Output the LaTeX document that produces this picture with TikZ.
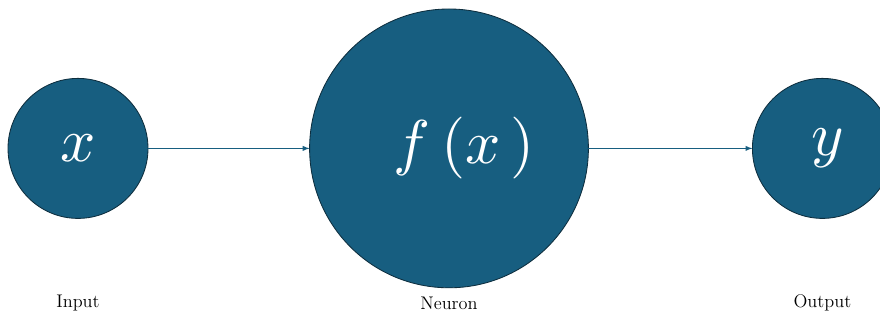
\documentclass[tikz,border=0pt]{standalone}
\usepackage{graphicx}
\usepackage{tikz}
\usetikzlibrary{positioning,arrows}
\definecolor{unitblue}{RGB}{23,94,128}
\definecolor{unitedge}{RGB}{14,46,62}
\newcommand{\bigmath}[1]{\scalebox{4.4}{$#1$}}
\tikzset{
  unit/.style={circle, fill=unitblue, draw=unitedge, line width=0.6pt,
    text=white, inner sep=0pt, outer sep=0pt},
  caption/.style={font=\fontsize{13}{15}\selectfont, inner sep=0pt},
  link/.style={->, >=latex, draw=unitblue, line width=0.7pt}
}
\begin{document}
\begin{tikzpicture}[node distance=0.9cm and 4.04cm]
    \clip (0,0) rectangle (22,8);
    \useasboundingbox (0,0) rectangle (22,8);
    %
    \node[unit, minimum size=6.97cm] (neuron) at (11.225,4.29) {\bigmath{\hspace{0.5em}f\,(x\,)}};
    \node[unit, minimum size=3.5cm, left=of neuron] (input) {\bigmath{x}};
    \node[unit, minimum size=3.5cm, right=4.1cm of neuron] (output) {\bigmath{\,y}};
    %
    \draw[link] (input) -- (neuron);
    \draw[link] (neuron) -- (output);
    %
    \node[caption] (inputlbl) at (input |- 0,0.42) {Input};
    \node[caption] (neuronlbl) at (neuron |- 0,0.42) {Neuron};
    \node[caption] (outputlbl) at (output |- 0,0.42) {Output};
\end{tikzpicture}
\end{document}
